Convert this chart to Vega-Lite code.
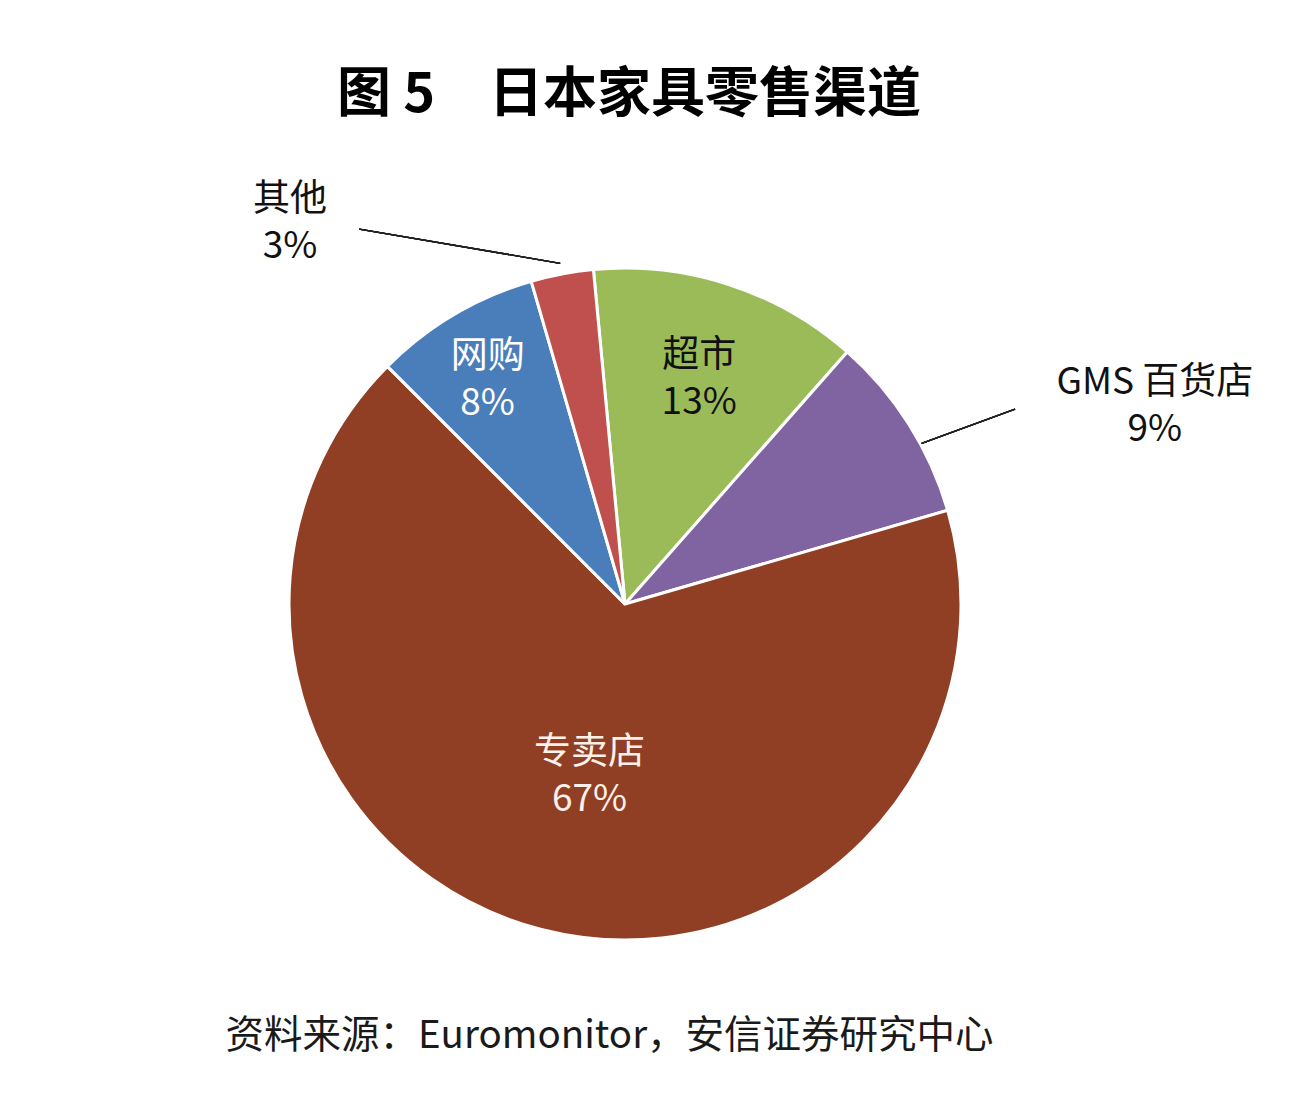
{
  "$schema": "https://vega.github.io/schema/vega-lite/v6.json",
  "width": 1250,
  "height": 792,
  "autosize": {"type": "none"},
  "padding": {"left": 0, "top": 208, "right": 52, "bottom": 120},
  "background": "white",
  "title": {"text": "图 5　日本家具零售渠道", "fontSize": 54, "fontWeight": "bold", "font": "Noto Sans CJK SC", "color": "#000000", "anchor": "middle", "baseline": "middle", "offset": 31, "dx": 4},
  "config": {"view": {"stroke": null}, "font": "Noto Sans CJK SC"},
  "data": {"values": [
    {"channel": "超市", "share": 13, "rank": 1},
    {"channel": "GMS 百货店", "share": 9, "rank": 2},
    {"channel": "专卖店", "share": 67, "rank": 3},
    {"channel": "网购", "share": 8, "rank": 4},
    {"channel": "其他", "share": 3, "rank": 5}
  ]},
  "layer": [
    {
      "mark": {"type": "arc", "radius": 336, "stroke": "white", "strokeWidth": 3},
      "encoding": {
        "theta": {"field": "share", "type": "quantitative", "stack": true, "scale": {"domain": [0, 100], "range": [-0.0942, 6.189]}},
        "color": {"field": "channel", "type": "nominal", "scale": {"domain": ["超市", "GMS 百货店", "专卖店", "网购", "其他"], "range": ["#9BBB59", "#7F64A1", "#913F24", "#4A7EBB", "#C0504D"]}, "legend": null},
        "order": {"field": "rank", "type": "quantitative", "sort": "ascending"}
      }
    },
    {
      "transform": [
        {"stack": "share", "groupby": [], "sort": [{"field": "rank", "order": "ascending"}], "as": ["s0", "s1"]},
        {"calculate": "(datum.s0 + datum.s1) / 2", "as": "mid"},
        {"calculate": "datum.channel + '\\n' + datum.share + '%'", "as": "label"},
        {"filter": "datum.channel === '超市'"}
      ],
      "mark": {"type": "text", "radius": 240, "dy": -20, "fontSize": 37, "lineHeight": 47, "lineBreak": "\n", "color": "#111111", "align": "center", "baseline": "middle"},
      "encoding": {
        "theta": {"field": "mid", "type": "quantitative", "stack": null, "scale": {"domain": [0, 100], "range": [-0.0942, 6.189]}},
        "text": {"field": "label", "type": "nominal"}
      }
    },
    {
      "transform": [
        {"stack": "share", "groupby": [], "sort": [{"field": "rank", "order": "ascending"}], "as": ["s0", "s1"]},
        {"calculate": "(datum.s0 + datum.s1) / 2", "as": "mid"},
        {"calculate": "datum.channel + '\\n' + datum.share + '%'", "as": "label"},
        {"filter": "datum.channel === '网购'"}
      ],
      "mark": {"type": "text", "radius": 264, "dy": -20, "dx": -3, "fontSize": 37, "lineHeight": 47, "lineBreak": "\n", "color": "#FFFFFF", "align": "center", "baseline": "middle"},
      "encoding": {
        "theta": {"field": "mid", "type": "quantitative", "stack": null, "scale": {"domain": [0, 100], "range": [-0.0942, 6.189]}},
        "text": {"field": "label", "type": "nominal"}
      }
    },
    {
      "transform": [
        {"stack": "share", "groupby": [], "sort": [{"field": "rank", "order": "ascending"}], "as": ["s0", "s1"]},
        {"calculate": "(datum.s0 + datum.s1) / 2", "as": "mid"},
        {"calculate": "datum.channel + '\\n' + datum.share + '%'", "as": "label"},
        {"filter": "datum.channel === '专卖店'"}
      ],
      "mark": {"type": "text", "radius": 175, "dx": 8, "dy": -20, "fontSize": 37, "lineHeight": 47, "lineBreak": "\n", "color": "#FBF1E9", "align": "center", "baseline": "middle"},
      "encoding": {
        "theta": {"field": "mid", "type": "quantitative", "stack": null, "scale": {"domain": [0, 100], "range": [-0.0942, 6.189]}},
        "text": {"field": "label", "type": "nominal"}
      }
    },
    {
      "mark": {"type": "rule", "color": "#222222", "strokeWidth": 1.3},
      "encoding": {
        "x": {"datum": 0.883, "type": "quantitative", "scale": {"domain": [-1.8601, 1.8601], "nice": false, "zero": false}, "axis": {"title": "资料来源：Euromonitor，安信证券研究中心", "titleFontSize": 38.5, "titleFont": "Noto Sans CJK SC", "titleFontWeight": "normal", "titleColor": "#1a1a1a", "titlePadding": 17, "titleX": 609, "domain": false, "ticks": false, "labels": false, "grid": false}},
        "y": {"datum": 0.478, "type": "quantitative", "scale": {"domain": [-1.1786, 1.1786], "nice": false, "zero": false}, "axis": null},
        "x2": {"datum": 1.161},
        "y2": {"datum": 0.58}
      }
    },
    {
      "mark": {"type": "rule", "color": "#222222", "strokeWidth": 1.3},
      "encoding": {
        "x": {"datum": -0.193, "type": "quantitative", "scale": {"domain": [-1.8601, 1.8601], "nice": false, "zero": false}, "axis": {"title": "资料来源：Euromonitor，安信证券研究中心", "titleFontSize": 38.5, "titleFont": "Noto Sans CJK SC", "titleFontWeight": "normal", "titleColor": "#1a1a1a", "titlePadding": 17, "titleX": 609, "domain": false, "ticks": false, "labels": false, "grid": false}},
        "y": {"datum": 1.014, "type": "quantitative", "scale": {"domain": [-1.1786, 1.1786], "nice": false, "zero": false}, "axis": null},
        "x2": {"datum": -0.791},
        "y2": {"datum": 1.116}
      }
    },
    {
      "transform": [
        {"calculate": "datum.channel + '\\n' + datum.share + '%'", "as": "label"},
        {"filter": "datum.channel === 'GMS 百货店'"}
      ],
      "mark": {"type": "text", "dy": -21, "fontSize": 37, "lineHeight": 47, "lineBreak": "\n", "color": "#111111", "align": "center", "baseline": "middle"},
      "encoding": {
        "x": {"datum": 1.577, "type": "quantitative", "scale": {"domain": [-1.8601, 1.8601], "nice": false, "zero": false}, "axis": {"title": "资料来源：Euromonitor，安信证券研究中心", "titleFontSize": 38.5, "titleFont": "Noto Sans CJK SC", "titleFontWeight": "normal", "titleColor": "#1a1a1a", "titlePadding": 17, "titleX": 609, "domain": false, "ticks": false, "labels": false, "grid": false}},
        "y": {"datum": 0.595, "type": "quantitative", "scale": {"domain": [-1.1786, 1.1786], "nice": false, "zero": false}, "axis": null},
        "text": {"field": "label", "type": "nominal"}
      }
    },
    {
      "transform": [
        {"calculate": "datum.channel + '\\n' + datum.share + '%'", "as": "label"},
        {"filter": "datum.channel === '其他'"}
      ],
      "mark": {"type": "text", "dy": -20, "fontSize": 37, "lineHeight": 47, "lineBreak": "\n", "color": "#111111", "align": "center", "baseline": "middle"},
      "encoding": {
        "x": {"datum": -0.997, "type": "quantitative", "scale": {"domain": [-1.8601, 1.8601], "nice": false, "zero": false}, "axis": {"title": "资料来源：Euromonitor，安信证券研究中心", "titleFontSize": 38.5, "titleFont": "Noto Sans CJK SC", "titleFontWeight": "normal", "titleColor": "#1a1a1a", "titlePadding": 17, "titleX": 609, "domain": false, "ticks": false, "labels": false, "grid": false}},
        "y": {"datum": 1.143, "type": "quantitative", "scale": {"domain": [-1.1786, 1.1786], "nice": false, "zero": false}, "axis": null},
        "text": {"field": "label", "type": "nominal"}
      }
    }
  ]
}
